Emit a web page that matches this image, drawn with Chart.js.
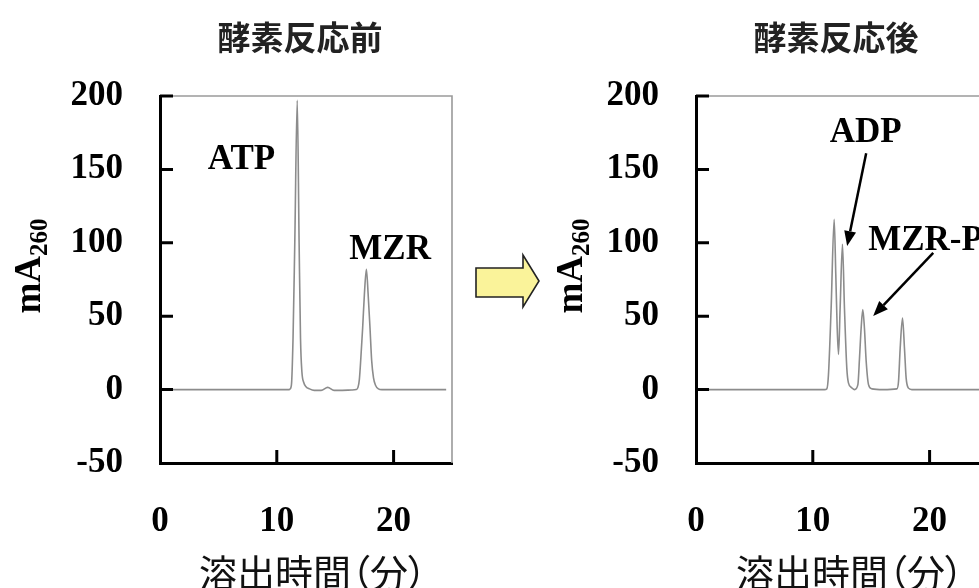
<!DOCTYPE html>
<html lang="ja">
<head>
<meta charset="utf-8">
<title>酵素反応前 / 酵素反応後</title>
<script src="https://cdn.jsdelivr.net/npm/chart.js@4.4.1/dist/chart.umd.min.js"></script>
<style>
  html, body { margin: 0; padding: 0; background: #fff; }
  #stage { position: relative; width: 979px; height: 588px; overflow: hidden; background: #fff; }
  #stage canvas { position: absolute; top: 0; }
  #before { left: 0; }
  #after { left: 540px; }
  #shift { position: absolute; left: 0; top: 0; }
  .xtitle {
    position: absolute; top: 551px; width: 300px; text-align: center;
    font-family: 'Noto Sans CJK JP', 'Noto Sans', sans-serif; font-size: 38px;
    line-height: 40px; color: #111; white-space: nowrap;
    font-feature-settings: "palt" 1;
  }
</style>
</head>
<body>
<div id="stage">
  <canvas id="before" width="480" height="600"></canvas>
  <canvas id="after" width="480" height="600"></canvas>
  <div class="xtitle" id="xtitle-before" style="left:163px"></div>
  <div class="xtitle" id="xtitle-after" style="left:700px"></div>
  <svg id="shift" width="979" height="588">
    <polygon points="476,268 523,268 523,255 539,281 523,307 523,297 476,297"
             fill="#faf39a" stroke="#222" stroke-width="1.6" stroke-linejoin="miter"/>
  </svg>
</div>
<script>
// Chromatograms (retention time in min, absorbance mA260)
const timeBefore = [0, 5, 10, 11.0, 11.12, 11.25, 11.39, 11.54, 11.75, 11.91, 12.03, 12.15, 12.3, 12.5, 12.8, 13.2, 13.8, 14.36, 14.9, 15.6, 16.4, 16.8, 16.95, 17.07, 17.2, 17.35, 17.5, 17.67, 17.82, 17.98, 18.12, 18.28, 18.45, 18.7, 19.0, 20, 22, 24.5];
const absBefore  = [0, 0, 0, 0, 0.3, 3, 35, 100, 197, 100, 35, 12, 5, 2, 0.5, -0.5, -0.5, 1.5, -0.5, -0.5, -0.3, 0, 1.5, 7, 22, 42, 65, 82, 65, 42, 20, 8, 3, 0.5, 0, 0, 0, 0];

const timeAfter = [0, 5, 10, 11.0, 11.2, 11.34, 11.57, 11.83, 11.97, 12.08, 12.2, 12.34, 12.54, 12.71, 12.91, 13.05, 13.34, 13.57, 13.86, 14.0, 14.14, 14.28, 14.42, 14.57, 14.77, 15.06, 16.0, 17.2, 17.34, 17.48, 17.68, 17.85, 17.99, 18.19, 18.48, 20, 22, 25];
const absAfter  = [0, 0, 0, 0, 0.5, 10, 55.6, 116, 78, 44, 24, 55.6, 99, 55.6, 14.8, 4.6, 1.2, 0, 3.4, 21.6, 42, 54.5, 42, 19.3, 3.4, 0.5, 0, 0.5, 5.7, 28, 48.8, 28, 8, 1, 0, 0, 0, 0];

const yMin = -50, yMax = 200, yStep = 50;
const xMin = 0, xMax = 25, xStep = 10;

const titleBefore = '酵素反応前';
const titleAfter = '酵素反応後';
const xTitle = '溶出時間（分）';

// peak labels, placed in data units
const labelsBefore = [
  { text: 'ATP', x: 6.97, y: 156.5, align: 'center' },
  { text: 'MZR', x: 19.7, y: 95.2, align: 'center' }
];
const labelsAfter = [
  { text: 'ADP', x: 14.52, y: 174.9, align: 'center' },
  { text: 'MZR-P', x: 14.74, y: 101.3, align: 'left' }
];
const pointersAfter = [
  { from: [14.57, 161], to: [12.94, 97.8] },
  { from: [20.31, 93.1], to: [15.17, 50.2] }
];

const SERIF = "'Liberation Serif', 'Times New Roman', serif";
const CJK = "'Noto Sans CJK JP', 'Noto Sans', sans-serif";

document.getElementById('xtitle-before').textContent = xTitle;
document.getElementById('xtitle-after').textContent = xTitle;

function toPoints(xs, ys) {
  return xs.map((x, i) => ({ x: x, y: ys[i] }));
}

// draws the frame, inward ticks, titles and notes
const decor = {
  id: 'decor',
  afterDraw(chart, args, opts) {
    const ctx = chart.ctx;
    const area = chart.chartArea;
    const xs = chart.scales.x;
    const ys = chart.scales.y;

    ctx.save();
    // thin grey top and right edges
    ctx.strokeStyle = '#9a9a9a';
    ctx.lineWidth = 1.6;
    ctx.beginPath();
    ctx.moveTo(area.left, area.top);
    ctx.lineTo(area.right, area.top);
    ctx.lineTo(area.right, area.bottom);
    ctx.stroke();

    // inward tick marks
    ctx.strokeStyle = '#000';
    ctx.lineWidth = 3;
    ctx.beginPath();
    ys.ticks.forEach(t => {
      if (t.value === yMin) return;
      const py = ys.getPixelForValue(t.value);
      ctx.moveTo(area.left, py);
      ctx.lineTo(area.left + 13, py);
    });
    xs.ticks.forEach(t => {
      if (t.value === xMin) return;
      const px = xs.getPixelForValue(t.value);
      ctx.moveTo(px, area.bottom);
      ctx.lineTo(px, area.bottom - 13);
    });
    ctx.stroke();

    // chart title
    ctx.fillStyle = '#222';
    ctx.font = 'bold 33px ' + CJK;
    ctx.textAlign = 'center';
    ctx.textBaseline = 'middle';
    ctx.fillText(opts.title, (area.left + area.right) / 2 - 6, 37);

    // y axis label mA260
    ctx.save();
    ctx.translate(opts.yLabelX, 266);
    ctx.rotate(-Math.PI / 2);
    ctx.fillStyle = '#000';
    ctx.font = 'bold 37px ' + SERIF;
    const w1 = ctx.measureText('mA').width;
    ctx.font = 'bold 25px ' + SERIF;
    const w2 = ctx.measureText('260').width;
    const start = -(w1 + w2) / 2;
    ctx.textAlign = 'left';
    ctx.textBaseline = 'alphabetic';
    ctx.font = 'bold 37px ' + SERIF;
    ctx.fillText('mA', start, 12);
    ctx.font = 'bold 25px ' + SERIF;
    ctx.fillText('260', start + w1, 19);
    ctx.restore();

    // peak labels
    ctx.fillStyle = '#000';
    ctx.font = 'bold 35px ' + SERIF;
    ctx.textBaseline = 'middle';
    (opts.labels || []).forEach(l => {
      ctx.textAlign = l.align;
      ctx.fillText(l.text, xs.getPixelForValue(l.x), ys.getPixelForValue(l.y));
    });

    // pointer arrows
    ctx.strokeStyle = '#000';
    ctx.lineWidth = 2.5;
    (opts.pointers || []).forEach(p => {
      const x0 = xs.getPixelForValue(p.from[0]), y0 = ys.getPixelForValue(p.from[1]);
      const x1 = xs.getPixelForValue(p.to[0]), y1 = ys.getPixelForValue(p.to[1]);
      const ang = Math.atan2(y1 - y0, x1 - x0);
      const head = 15, half = 6;
      const bx = x1 - head * Math.cos(ang), by = y1 - head * Math.sin(ang);
      ctx.beginPath();
      ctx.moveTo(x0, y0);
      ctx.lineTo(bx, by);
      ctx.stroke();
      ctx.beginPath();
      ctx.moveTo(x1, y1);
      ctx.lineTo(bx + half * Math.sin(ang), by - half * Math.cos(ang));
      ctx.lineTo(bx - half * Math.sin(ang), by + half * Math.cos(ang));
      ctx.closePath();
      ctx.fill();
    });
    ctx.restore();
  }
};

function makeChart(canvasId, xs, ys, plotLeft, padRight, extra) {
  const ctx = document.getElementById(canvasId).getContext('2d');
  return new Chart(ctx, {
    type: 'line',
    data: {
      datasets: [{
        data: toPoints(xs, ys),
        borderColor: '#8c8c8c',
        borderWidth: 1.6,
        pointRadius: 0,
        fill: false,
        cubicInterpolationMode: 'monotone'
      }]
    },
    options: {
      responsive: false,
      animation: false,
      devicePixelRatio: 1,
      events: [],
      layout: { padding: { left: 0, right: padRight, top: 96, bottom: 0 } },
      scales: {
        x: {
          type: 'linear',
          min: xMin,
          max: xMax,
          afterFit: s => { s.height = 600 - 463; },
          grid: { display: false },
          border: { display: true, color: '#000', width: 3 },
          ticks: {
            stepSize: xStep,
            includeBounds: false,
            maxRotation: 0,
            padding: 30,
            color: '#000',
            font: { family: SERIF, size: 35, weight: 'bold' }
          }
        },
        y: {
          min: yMin,
          max: yMax,
          afterFit: s => { s.width = plotLeft; },
          grid: { display: false },
          border: { display: true, color: '#000', width: 3 },
          ticks: {
            stepSize: yStep,
            padding: 29,
            color: '#000',
            font: { family: SERIF, size: 35, weight: 'bold' }
          }
        }
      },
      plugins: {
        legend: { display: false },
        tooltip: { enabled: false },
        decor: extra
      }
    },
    plugins: [decor]
  });
}

makeChart('before', timeBefore, absBefore, 160, 28,
  { title: titleBefore, yLabelX: 28, labels: labelsBefore, pointers: [] });
makeChart('after', timeAfter, absAfter, 156, 32,
  { title: titleAfter, yLabelX: 30, labels: labelsAfter, pointers: pointersAfter });
</script>
</body>
</html>
